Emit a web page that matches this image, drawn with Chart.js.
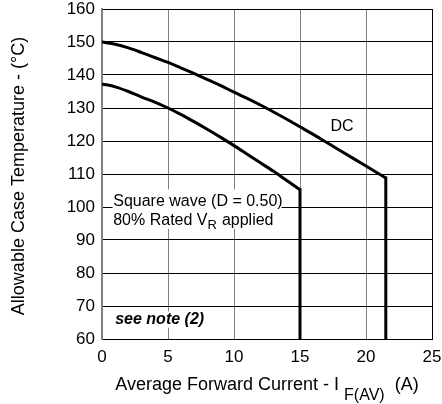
<!DOCTYPE html>
<html>
<head>
<meta charset="utf-8">
<script src="https://cdn.jsdelivr.net/npm/chart.js@4"></script>
<style>
  html, body { margin: 0; padding: 0; background: #fff; }
  #wrap { width: 442px; height: 404px; }
</style>
</head>
<body>
<div id="wrap"><canvas id="myChartCanvas1" width="442" height="404"></canvas></div>
<script>
// valores
const currentDC = [0, 1, 2, 3, 4, 5, 6, 7, 8, 9, 10, 11, 12, 13, 14, 15, 16, 17, 18, 19, 20, 21, 21.5, 21.5];
const tempDC = [150, 149.3, 148.2, 146.8, 145.3, 143.8, 142.1, 140.4, 138.6, 136.8, 134.8, 132.9, 130.9, 128.8, 126.6, 124.3, 122, 119.6, 117.2, 114.8, 112.4, 110, 108.8, 60];
const currentSquare = [0, 1, 2, 3, 4, 5, 6, 7, 8, 9, 10, 11, 12, 13, 14, 15, 15];
const tempSquare = [137.3, 136.4, 135, 133.3, 131.8, 130, 128, 125.8, 123.5, 121.1, 118.6, 116, 113.4, 110.8, 108, 105.2, 60];
const xTicks = [0, 5, 10, 15, 20, 25];
const yTicks = [60, 70, 80, 90, 100, 110, 120, 130, 140, 150, 160];

const FONT = '"Liberation Sans", Arial, sans-serif';

function toPoints(xs, ys) {
    return xs.map((x, i) => ({ x: x, y: ys[i] }));
}

// curva suave + queda vertical reta
function curveDataset(xs, ys) {
    return {
        data: toPoints(xs, ys).slice(0, xs.length - 1),
        borderColor: '#000',
        borderWidth: 3,
        pointRadius: 0,
        cubicInterpolationMode: 'monotone',
        fill: false
    };
}
function dropDataset(xs, ys) {
    return {
        data: toPoints(xs, ys).slice(xs.length - 2),
        borderColor: '#000',
        borderWidth: 3,
        borderCapStyle: 'square',
        pointRadius: 0,
        tension: 0,
        fill: false
    };
}

// caixas brancas atras dos textos e os textos
const labelsPlugin = {
    id: 'labels',
    beforeDatasetsDraw(chart) {
        const ctx = chart.ctx;
        const x = chart.scales.x;
        const y = chart.scales.y;
        ctx.save();
        ctx.fillStyle = '#fff';
        // caixa "Square wave"
        let x1 = x.getPixelForValue(0.8), x2 = x.getPixelForValue(13.6);
        let y1 = y.getPixelForValue(105.3), y2 = y.getPixelForValue(93.4);
        ctx.fillRect(x1, y1, x2 - x1, y2 - y1);
        // caixa "see note"
        x1 = x.getPixelForValue(0.8); x2 = x.getPixelForValue(7.9);
        y1 = y.getPixelForValue(68.3); y2 = y.getPixelForValue(63.4);
        ctx.fillRect(x1, y1, x2 - x1, y2 - y1);
        ctx.restore();
    },
    afterDraw(chart) {
        const ctx = chart.ctx;
        const x = chart.scales.x;
        const y = chart.scales.y;
        ctx.save();
        ctx.fillStyle = '#000';
        ctx.textBaseline = 'middle';

        // DC
        ctx.font = '16px ' + FONT;
        ctx.textAlign = 'center';
        ctx.fillText('DC', 342, y.getPixelForValue(124.4));

        // Square wave
        ctx.textAlign = 'left';
        ctx.font = '16px ' + FONT;
        const tx = x.getPixelForValue(0.85);
        ctx.fillText('Square wave (D = 0.50)', tx, y.getPixelForValue(101.6));
        const ty = y.getPixelForValue(96.0);
        let s = '80% Rated V';
        ctx.fillText(s, tx, ty);
        let w = ctx.measureText(s).width;
        ctx.font = '13px ' + FONT;
        ctx.fillText('R', tx + w, ty + 5);
        w += ctx.measureText('R').width + 5;
        ctx.font = '16px ' + FONT;
        ctx.fillText('applied', tx + w, ty);

        // see note
        ctx.font = 'italic bold 16px ' + FONT;
        ctx.fillText('see note (2)', x.getPixelForValue(1.0), y.getPixelForValue(65.8));

        // titulo eixo X com subscrito
        ctx.font = '18px ' + FONT;
        const main = 'Average Forward Current - I ';
        const sub = 'F(AV)';
        const tail = '  (A)';
        const wMain = ctx.measureText(main).width;
        const wTail = ctx.measureText(tail).width;
        ctx.font = '16px ' + FONT;
        const wSub = ctx.measureText(sub).width;
        let sx = 267 - (wMain + wSub + wTail) / 2;
        const by = 385;
        ctx.font = '18px ' + FONT;
        ctx.fillText(main, sx, by);
        ctx.font = '16px ' + FONT;
        ctx.fillText(sub, sx + wMain, by + 11);
        ctx.font = '18px ' + FONT;
        ctx.fillText(tail, sx + wMain + wSub, by);

        // titulo eixo Y
        ctx.translate(19, 176);
        ctx.rotate(-Math.PI / 2);
        ctx.textAlign = 'center';
        ctx.font = '18px ' + FONT;
        ctx.fillText('Allowable Case Temperature - (\u00B0C)', 0, 0);
        ctx.restore();
    }
};

const dados = {
    datasets: [
        curveDataset(currentDC, tempDC),
        dropDataset(currentDC, tempDC),
        curveDataset(currentSquare, tempSquare),
        dropDataset(currentSquare, tempSquare)
    ]
};

const config = {
    type: 'line',
    data: dados,
    options: {
        responsive: false,
        animation: false,
        layout: { padding: { top: 9, right: 10, left: 0, bottom: 0 } },
        scales: {
            x: {
                type: 'linear',
                min: 0,
                max: 25,
                afterBuildTicks: (scale) => { scale.ticks = xTicks.map(v => ({ value: v })); },
                afterFit: (scale) => {
                    scale.height = 65;
                    scale.paddingLeft = 0;
                    scale.paddingRight = 0;
                },
                ticks: {
                    color: '#000',
                    padding: 8,
                    maxRotation: 0,
                    font: { family: FONT, size: 17 }
                },
                grid: {
                    drawTicks: false,
                    color: (c) => c.tick && c.tick.value === 25 ? '#000' : '#808080',
                    lineWidth: 1
                },
                border: { color: '#000', width: 1 }
            },
            y: {
                min: 60,
                max: 160,
                afterBuildTicks: (scale) => { scale.ticks = yTicks.map(v => ({ value: v })); },
                afterFit: (scale) => {
                    scale.width = 102;
                    scale.paddingTop = 0;
                    scale.paddingBottom = 0;
                },
                ticks: {
                    color: '#000',
                    padding: 7,
                    font: { family: FONT, size: 17 }
                },
                grid: {
                    drawTicks: false,
                    color: '#000',
                    lineWidth: 1
                },
                border: { color: '#808080', width: 2 }
            }
        },
        plugins: {
            legend: { display: false },
            tooltip: { enabled: false }
        }
    },
    plugins: [labelsPlugin]
};

new Chart(document.getElementById('myChartCanvas1'), config);
</script>
</body>
</html>
